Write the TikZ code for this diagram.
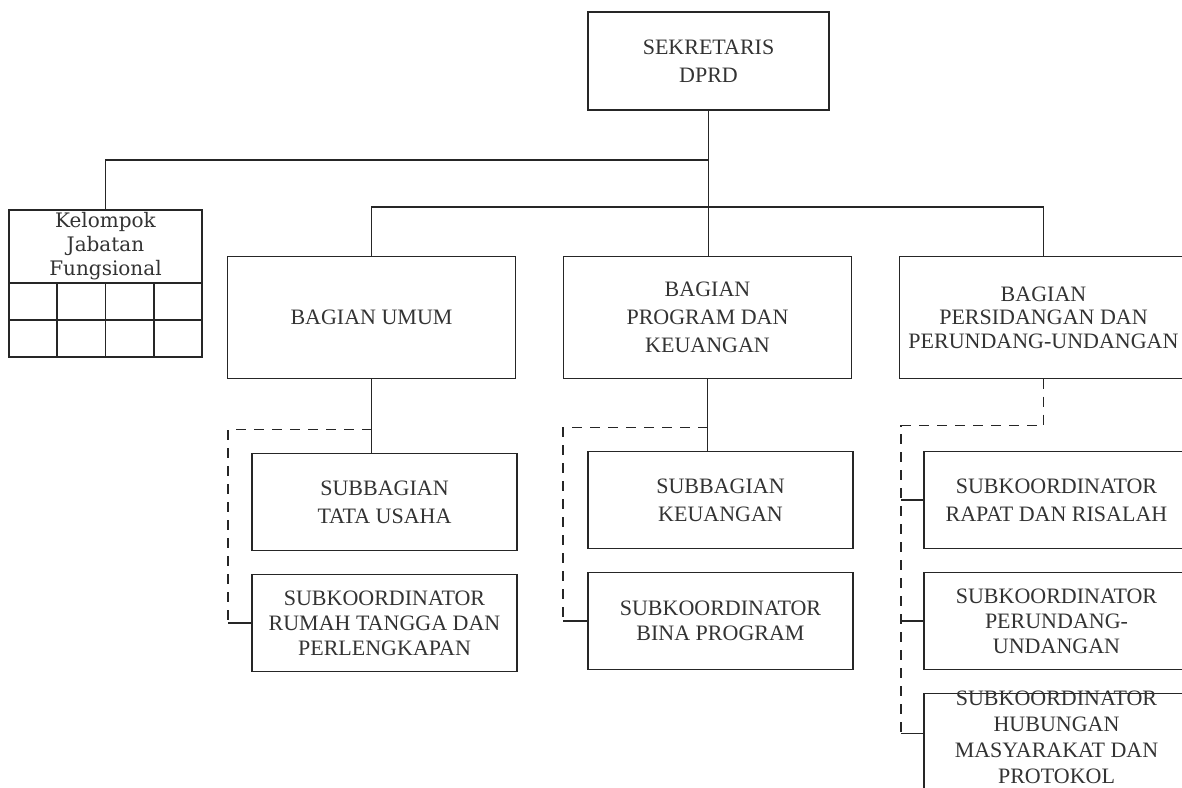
\documentclass[tikz,border=0pt]{standalone}
\usepackage{fontspec}
\setmainfont{Liberation Serif}
\newfontfamily\kelfont{DejaVu Serif}
\usetikzlibrary{positioning, calc}

\begin{document}
\begin{tikzpicture}[
    x=0.5pt, y=-0.5pt,
    unit/.style={
        rectangle, draw=black!85, line width=0.9pt,
        align=center, inner sep=0pt, outer sep=0pt, text=black!80,
        font=\fontsize{11}{14}\selectfont
    },
    bagian/.style={unit, minimum width=144pt, minimum height=61pt},
    subunit/.style={unit, minimum width=132.5pt, minimum height=48.5pt},
    link/.style={draw=black!85, line width=0.9pt},
    dashlink/.style={link, dash pattern=on 5pt off 4pt}
]
\useasboundingbox (0,0) rectangle (1182,787);

\node[unit, minimum width=120.5pt, minimum height=49pt] (sek) at (708.5,61)
    {SEKRETARIS\\DPRD};
\node[unit, minimum width=96.5pt, minimum height=36.5pt,
      font=\kelfont\fontsize{10}{12}\selectfont] (kel) at (105.5,246.5)
    {Kelompok\\Jabatan\\Fungsional};
\foreach \c in {0,...,3}
    \foreach \r in {0,1}
        \draw[link] ($(kel.south west)+(\c*48.25,\r*37)$) rectangle ++(48.25,37);

\node[bagian] (umum) at (371.5,317.5) {BAGIAN UMUM};
\node[bagian, right=24pt of umum] (prog) {BAGIAN\\PROGRAM DAN\\KEUANGAN};
\node[bagian, right=24pt of prog, font=\fontsize{11}{11.8}\selectfont] (sidang)
    {BAGIAN\\PERSIDANGAN DAN\\PERUNDANG-UNDANGAN};

\node[subunit, below=37.5pt of umum, xshift=6.5pt] (tu) {SUBBAGIAN\\TATA USAHA};
\node[subunit, below=12pt of tu, font=\fontsize{11}{12.5}\selectfont] (rt)
    {SUBKOORDINATOR\\RUMAH TANGGA DAN\\PERLENGKAPAN};
\node[subunit, below=36.5pt of prog, xshift=6.5pt] (keu) {SUBBAGIAN\\KEUANGAN};
\node[subunit, below=12pt of keu, font=\fontsize{11}{12.5}\selectfont] (bina)
    {SUBKOORDINATOR\\BINA PROGRAM};
\node[subunit, below=36.5pt of sidang, xshift=6.5pt] (rapat)
    {SUBKOORDINATOR\\RAPAT DAN RISALAH};
\node[subunit, below=12pt of rapat, font=\fontsize{11}{12.5}\selectfont] (perun)
    {SUBKOORDINATOR\\PERUNDANG-\\UNDANGAN};
\node[subunit, below=12pt of perun] (humas) {};
\node[anchor=north, align=center, inner sep=0pt, text=black!80,
      font=\fontsize{11}{13}\selectfont] (humastxt) at ([yshift=1.5pt]humas.north)
    {SUBKOORDINATOR\\HUBUNGAN\\MASYARAKAT DAN\\PROTOKOL};

\path (sek.south) ++(0,50) coordinate (bus1);
\path (sek.south) ++(0,97) coordinate (bus2);
\draw[link] (sek.south) -- (sek.south |- prog.north);
\draw[link] (kel.north) |- (bus1);
\draw[link] (umum.north) |- (bus2) -| (sidang.north);

\path (umum.south) ++(0,51) coordinate (u1);
\path (rt.west) ++(-24,0) coordinate (u2);
\draw[link] (umum.south) -- (umum.south |- tu.north);
\draw[dashlink] (u1) -| (u2);
\draw[link] (u2) -- (rt.west);

\path (prog.south) ++(0,49) coordinate (p1);
\path (bina.west) ++(-25,0) coordinate (p2);
\draw[link] (prog.south) -- (prog.south |- keu.north);
\draw[dashlink] (p1) -| (p2);
\draw[link] (p2) -- (bina.west);

\path (sidang.south) ++(0,47) coordinate (s1);
\path (humas.north west) ++(-23,40) coordinate (s2);
\draw[dashlink] (sidang.south) -- (s1) -| (s2);
\draw[link] (s2) -- (s2 -| humas.west);
\draw[link] (rapat.west -| s2) -- (rapat.west);
\draw[link] (perun.west -| s2) -- (perun.west);
\end{tikzpicture}
\end{document}
